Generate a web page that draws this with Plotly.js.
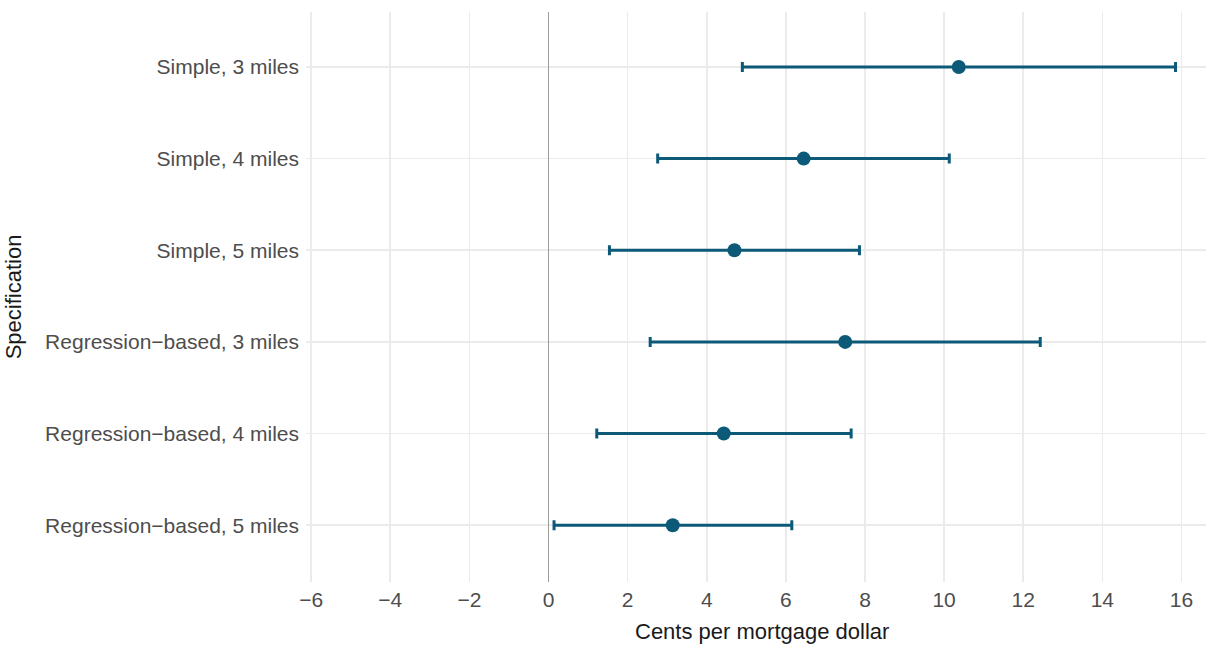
<!DOCTYPE html>
<html>
<head>
<meta charset="utf-8">
<script src="https://cdn.plot.ly/plotly-3.0.1.min.js"></script>
<style>html,body{margin:0;padding:0;background:#fff;}#chart{width:1206px;height:646px;}</style>
</head>
<body>
<div id="chart"></div>
<script>
const specifications = [
  "Simple, 3 miles",
  "Simple, 4 miles",
  "Simple, 5 miles",
  "Regression\u2212based, 3 miles",
  "Regression\u2212based, 4 miles",
  "Regression\u2212based, 5 miles"
];
const estimates = [10.37, 6.45, 4.70, 7.50, 4.43, 3.14];
const lowerCI   = [4.90, 2.76, 1.54, 2.57, 1.22, 0.14];
const upperCI   = [15.85, 10.13, 7.86, 12.43, 7.65, 6.15];
const xTicks = [-6, -4, -2, 0, 2, 4, 6, 8, 10, 12, 14, 16];
const xTitle = "Cents per mortgage dollar";
const yTitle = "Specification";

const color = "#0c5978";
const trace = {
  type: "scatter",
  mode: "markers",
  x: estimates,
  y: specifications,
  marker: {color: color, size: 14},
  error_x: {
    type: "data",
    symmetric: false,
    array: upperCI.map((u, i) => u - estimates[i]),
    arrayminus: lowerCI.map((l, i) => estimates[i] - l),
    color: color,
    thickness: 3,
    width: 5
  },
  hoverinfo: "x+y"
};

const layout = {
  width: 1206,
  height: 646,
  margin: {l: 306, r: 0, t: 12, b: 64},
  paper_bgcolor: "#fff",
  plot_bgcolor: "#fff",
  font: {family: "Liberation Sans, Arial, sans-serif", size: 21, color: "#4d4d4d"},
  showlegend: false,
  xaxis: {
    range: [-6.13, 16.62],
    tickvals: xTicks,
    ticks: "",
    showgrid: true,
    gridcolor: "#ebebeb",
    gridwidth: 1.6,
    zeroline: true,
    zerolinecolor: "#9c9c9c",
    zerolinewidth: 1.8,
    showline: false,
    ticklabelstandoff: 3,
    tickfont: {size: 21, color: "#4d4d4d"}
  },
  yaxis: {
    type: "category",
    categoryorder: "array",
    categoryarray: specifications.slice().reverse(),
    range: [-0.62, 5.6],
    ticks: "",
    showgrid: true,
    gridcolor: "#ebebeb",
    gridwidth: 1.6,
    zeroline: false,
    showline: false,
    ticklabelstandoff: 6,
    tickfont: {size: 21, color: "#4d4d4d"},
    title: {text: yTitle, font: {size: 22, color: "#1a1a1a"}, standoff: 17}
  },
  annotations: [{
    text: xTitle,
    xref: "paper", yref: "paper",
    x: 0.5067, y: -0.086,
    xanchor: "center", yanchor: "middle",
    showarrow: false,
    font: {size: 22, color: "#1a1a1a"}
  }]
};

Plotly.newPlot("chart", [trace], layout, {displayModeBar: false, staticPlot: true});
</script>
</body>
</html>
